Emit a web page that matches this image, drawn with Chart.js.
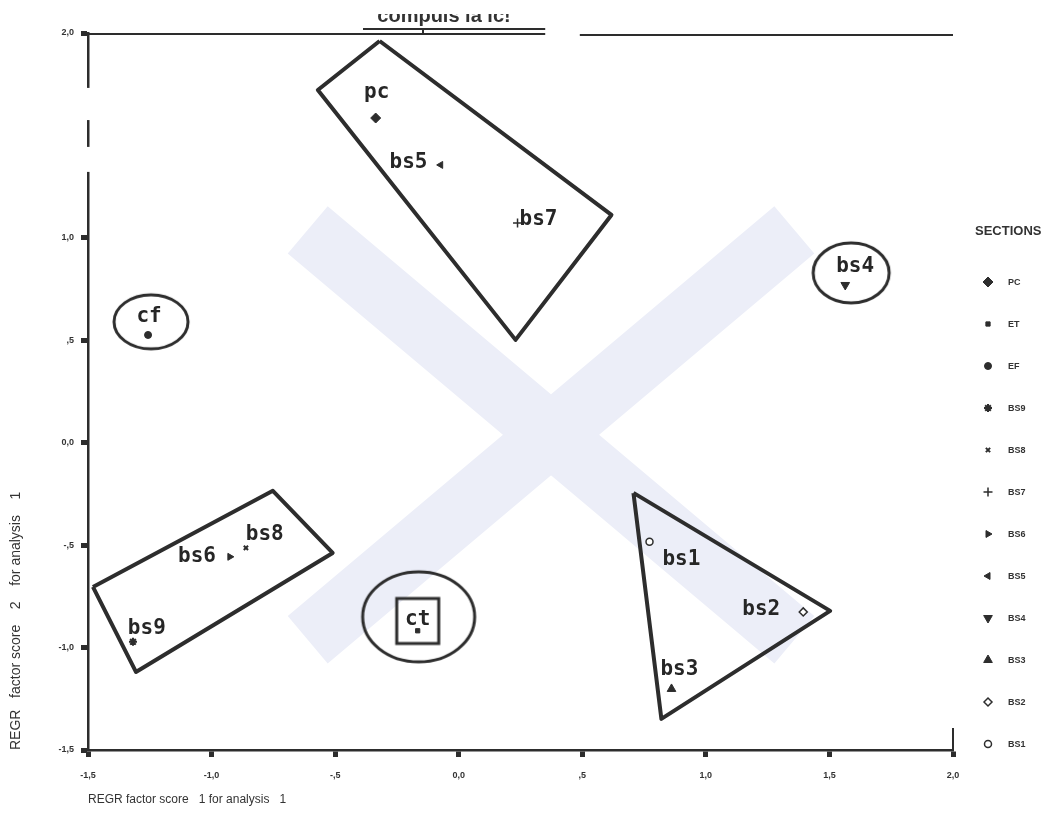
<!DOCTYPE html>
<html>
<head>
<meta charset="utf-8">
<title>SECTIONS</title>
<script src="https://cdn.jsdelivr.net/npm/chart.js@4.4.1/dist/chart.umd.min.js"></script>
<style>
    body { margin: 0; background: #fff; }
    canvas { display: block; }
</style>
</head>
<body>
<canvas id="chart" width="1059" height="834"></canvas>
<script>
// sections, in legend order
const sections = ['PC', 'ET', 'EF', 'BS9', 'BS8', 'BS7', 'BS6', 'BS5', 'BS4', 'BS3', 'BS2', 'BS1'];
// REGR factor score 1 (x) and 2 (y)
const score1 = [-0.336, -0.166, -1.257, -1.318, -0.861, 0.238, -0.926, -0.073, 1.564, 0.861, 1.394, 0.772];
const score2 = [1.585, -0.918, 0.526, -0.972, -0.513, 1.073, -0.557, 1.356, 0.770, -1.202, -0.826, -0.484];

// hand written names on the plot
const noteText = ['pc', 'ct', 'cf', 'bs9', 'bs8', 'bs7', 'bs6', 'bs5', 'bs4', 'bs3', 'bs2', 'bs1'];
const noteX = [-0.332, -0.166, -1.253, -1.262, -0.785, 0.323, -1.059, -0.203, 1.604, 0.893, 1.224, 0.901];
const noteY = [1.707, -0.865, 0.614, -0.909, -0.450, 1.087, -0.557, 1.366, 0.858, -1.109, -0.816, -0.572];

// groups drawn around the points
const groupPcX = [-0.320, -0.570, 0.230, 0.618];
const groupPcY = [1.961, 1.722, 0.502, 1.112];
const groupBs9X = [-1.480, -0.752, -0.510, -1.306];
const groupBs9Y = [-0.704, -0.235, -0.538, -1.119];
const groupBs1X = [0.707, 1.503, 0.820];
const groupBs1Y = [-0.245, -0.821, -1.348];

// rings: cf, bs4, ct, box round ct
const ringX = [-1.245, 1.588, -0.162, -0.166];
const ringY = [0.590, 0.829, -0.850, -0.870];

// faint X stamp behind the plot
const stampX = [-0.611, 1.358];
const stampY = [1.039, -0.962];

// breaks in the scanned y axis line
const axisGaps = [[1.732, 1.575], [1.444, 1.322]];

const xTickLabels = ['-1,5', '-1,0', '-,5', '0,0', ',5', '1,0', '1,5', '2,0'];
const yTickLabels = ['-1,5', '-1,0', '-,5', '0,0', ',5', '1,0', '', '2,0'];

const ink = '#2d2d2d';
const stampColor = '#eceef8';

const markers = [
    {pointStyle: 'rectRot', radius: 5, rotation: 0, fill: ink},
    {pointStyle: 'rect', radius: 3, rotation: 0, fill: ink},
    {pointStyle: 'circle', radius: 3.5, rotation: 0, fill: ink},
    {pointStyle: 'star', radius: 4, rotation: 0, fill: ink, borderWidth: 2},
    {pointStyle: 'crossRot', radius: 3, rotation: 0, fill: ink, borderWidth: 2},
    {pointStyle: 'cross', radius: 4.5, rotation: 0, fill: ink, borderWidth: 1.5},
    {pointStyle: 'triangle', radius: 4, rotation: 90, fill: ink},
    {pointStyle: 'triangle', radius: 4, rotation: -90, fill: ink},
    {pointStyle: 'triangle', radius: 5, rotation: 180, fill: ink},
    {pointStyle: 'triangle', radius: 5, rotation: 0, fill: ink},
    {pointStyle: 'rectRot', radius: 4, rotation: 0, fill: '#fff', borderWidth: 1.5},
    {pointStyle: 'circle', radius: 3.5, rotation: 0, fill: '#fff', borderWidth: 1.5}
];

function ringImage(w, h, lw, square) {
    const c = document.createElement('canvas');
    c.width = w + lw * 2;
    c.height = h + lw * 2;
    const g = c.getContext('2d');
    g.strokeStyle = ink;
    g.lineWidth = lw;
    if (square) {
        g.strokeRect(lw, lw, w, h);
    } else {
        g.beginPath();
        g.ellipse(c.width / 2, c.height / 2, w / 2, h / 2, 0, 0, Math.PI * 2);
        g.stroke();
    }
    return c;
}

const ringStyles = [
    ringImage(74, 54, 3, false),
    ringImage(76, 60, 3, false),
    ringImage(112, 90, 3, false),
    ringImage(42, 45, 3, true)
];

function polygon(xs, ys) {
    let pts = xs.map((x, i) => ({x: x, y: ys[i]}));
    pts.push(pts[0]);
    return {
        data: pts,
        showLine: true,
        borderColor: ink,
        borderWidth: 4,
        borderJoinStyle: 'round',
        pointRadius: 0,
        order: 5
    };
}

let datasets = sections.map((name, i) => {
    let m = markers[i];
    return {
        label: name,
        data: [{x: score1[i], y: score2[i]}],
        pointStyle: m.pointStyle,
        pointRadius: m.radius,
        pointRotation: m.rotation,
        pointBackgroundColor: m.fill,
        pointBorderColor: ink,
        pointBorderWidth: m.borderWidth || 1,
        order: 1
    };
});

datasets.push(polygon(groupPcX, groupPcY));
datasets.push(polygon(groupBs9X, groupBs9Y));
datasets.push(polygon(groupBs1X, groupBs1Y));

datasets.push({
    data: ringX.map((x, i) => ({x: x, y: ringY[i]})),
    pointStyle: ringStyles,
    pointRadius: 3,
    order: 4
});

datasets.push({
    data: [{x: stampX[0], y: stampY[0]}, {x: stampX[1], y: stampY[1]}],
    showLine: true,
    borderColor: stampColor,
    borderWidth: 62,
    borderCapStyle: 'butt',
    pointRadius: 0,
    order: 10
});
datasets.push({
    data: [{x: stampX[1], y: stampY[0]}, {x: stampX[0], y: stampY[1]}],
    showLine: true,
    borderColor: stampColor,
    borderWidth: 62,
    borderCapStyle: 'butt',
    pointRadius: 0,
    order: 10
});

const notesPlugin = {
    id: 'notes',
    afterDatasetsDraw(chart) {
        const ctx = chart.ctx;
        const sx = chart.scales.x;
        const sy = chart.scales.y;
        ctx.save();
        ctx.fillStyle = '#262626';
        ctx.font = 'bold 21px "DejaVu Sans Mono"';
        ctx.textAlign = 'center';
        ctx.textBaseline = 'middle';
        for (let i = 0; i < noteText.length; i++) {
            ctx.fillText(noteText[i], sx.getPixelForValue(noteX[i]), sy.getPixelForValue(noteY[i]));
        }
        ctx.restore();
    }
};

const legendPlugin = {
    id: 'sideLegend',
    afterDraw(chart) {
        const ctx = chart.ctx;
        const left = chart.chartArea.right;
        ctx.save();
        ctx.fillStyle = '#333';
        ctx.font = 'bold 13px "Liberation Sans Narrow", "Liberation Sans", sans-serif';
        ctx.textBaseline = 'middle';
        ctx.fillText('SECTIONS', left + 22, 231);
        for (let i = 0; i < sections.length; i++) {
            let m = markers[i];
            let y = 282 + i * 42;
            ctx.fillStyle = m.fill;
            ctx.strokeStyle = ink;
            ctx.lineWidth = m.borderWidth || 1;
            Chart.helpers.drawPoint(ctx, {
                pointStyle: m.pointStyle,
                radius: m.radius,
                rotation: m.rotation,
                borderWidth: m.borderWidth || 1
            }, left + 35, y);
            ctx.fillStyle = '#333';
            ctx.font = 'bold 9px "Liberation Sans", sans-serif';
            ctx.fillText(sections[i], left + 55, y + 1);
        }
        ctx.restore();
    }
};

const framePlugin = {
    id: 'frame',
    afterDraw(chart) {
        const ctx = chart.ctx;
        const a = chart.chartArea;
        const sx = chart.scales.x;
        const sy = chart.scales.y;
        ctx.save();

        // breaks in the left axis line
        ctx.fillStyle = '#fff';
        axisGaps.forEach(g => {
            let y0 = sy.getPixelForValue(g[0]);
            let y1 = sy.getPixelForValue(g[1]);
            ctx.fillRect(a.left - 3, y0, 6, y1 - y0);
        });

        ctx.strokeStyle = ink;
        ctx.lineWidth = 2;
        ctx.beginPath();
        ctx.moveTo(a.left, a.top + 1);
        ctx.lineTo(sx.getPixelForValue(0.35), a.top + 1);
        ctx.moveTo(sx.getPixelForValue(0.49), a.top + 2);
        ctx.lineTo(a.right, a.top + 2);
        ctx.moveTo(a.right, a.bottom - 22);
        ctx.lineTo(a.right, a.bottom);
        ctx.stroke();

        // title, its upper half lost at the top edge of the scan
        ctx.fillStyle = '#333';
        ctx.font = 'bold 20px "Liberation Sans", sans-serif';
        ctx.textAlign = 'center';
        ctx.textBaseline = 'alphabetic';
        ctx.fillText('compuis la ic!', 444, 22);
        ctx.fillStyle = '#fff';
        ctx.fillRect(300, 0, 300, 14);
        ctx.lineWidth = 2;
        ctx.beginPath();
        ctx.moveTo(363, 29);
        ctx.lineTo(sx.getPixelForValue(0.35), 29);
        ctx.moveTo(423, 29);
        ctx.lineTo(423, 35);
        ctx.stroke();
        ctx.restore();
    }
};

const tickFont = {family: '"Liberation Sans", sans-serif', size: 9, weight: 'bold'};
const hideTick = c => (c.tick && c.tick.value === 1.5 ? 'rgba(0,0,0,0)' : ink);

new Chart(document.getElementById('chart'), {
    type: 'scatter',
    data: {datasets: datasets},
    options: {
        responsive: false,
        animation: false,
        layout: {padding: {top: 33, right: 106, left: 0, bottom: 0}},
        plugins: {
            legend: {display: false},
            tooltip: {enabled: false}
        },
        scales: {
            x: {
                type: 'linear',
                min: -1.5,
                max: 2,
                afterFit: s => { s.height = 84; },
                ticks: {
                    stepSize: 0.5,
                    autoSkip: false,
                    maxRotation: 0,
                    padding: 13,
                    color: '#333',
                    font: tickFont,
                    callback: (v, i) => xTickLabels[i]
                },
                grid: {drawOnChartArea: false, tickLength: 7, tickWidth: 5, tickColor: ink},
                border: {color: ink, width: 2.5},
                title: {
                    display: true,
                    text: 'REGR factor score   1 for analysis   1',
                    align: 'start',
                    color: '#333',
                    font: {family: '"Liberation Sans Narrow", "Liberation Sans", sans-serif', size: 12},
                    padding: {top: 4, bottom: 27}
                }
            },
            y: {
                type: 'linear',
                min: -1.5,
                max: 2,
                afterFit: s => { s.width = 88; },
                ticks: {
                    stepSize: 0.5,
                    autoSkip: false,
                    padding: 7,
                    color: '#333',
                    font: tickFont,
                    callback: (v, i) => yTickLabels[i]
                },
                grid: {drawOnChartArea: false, tickLength: 7, tickWidth: 5, tickColor: hideTick},
                border: {color: ink, width: 2.5},
                title: {
                    display: true,
                    text: 'REGR   factor score    2    for analysis    1',
                    align: 'start',
                    color: '#333',
                    font: {family: '"Liberation Sans Narrow", "Liberation Sans", sans-serif', size: 14},
                    padding: {top: 8, bottom: 0}
                }
            }
        }
    },
    plugins: [notesPlugin, legendPlugin, framePlugin]
});
</script>
</body>
</html>
